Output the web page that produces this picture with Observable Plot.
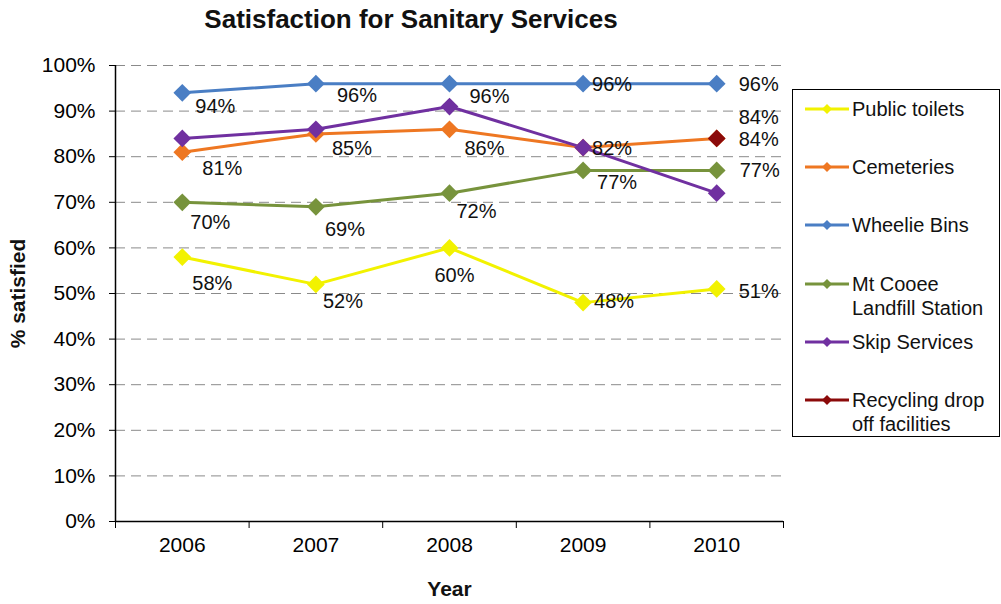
<!DOCTYPE html>
<html><head><meta charset="utf-8">
<script src="https://cdn.jsdelivr.net/npm/d3@7"></script>
<script src="https://cdn.jsdelivr.net/npm/@observablehq/plot@0.6"></script>
<style>
body{margin:0;background:#fff;font-family:"Liberation Sans",Arial,sans-serif;}
#wrap{position:relative;width:1001px;height:604px;overflow:hidden;background:#fff}
#chart{position:absolute;left:0;top:0}
#title{position:absolute;left:0;width:822px;top:4px;text-align:center;font-weight:bold;font-size:26px;color:#111}
#legend{position:absolute;left:792px;top:89px;width:208px;height:348px;border:1.5px solid #000;box-sizing:border-box;}
.item{position:absolute;left:0;width:206px;height:48px}
.item svg{position:absolute;left:10px;top:0}
.item div{position:absolute;left:59px;top:0;font-size:20px;line-height:24px;color:#111;white-space:nowrap}
</style></head><body>
<div id="wrap"><div id="chart"></div><div id="title">Satisfaction for Sanitary Services</div><div id="legend"></div></div>
<script>
const years = [2006, 2007, 2008, 2009, 2010];
const seriesNames = ["Public toilets", "Cemeteries", "Wheelie Bins", "Mt Cooee Landfill Station", "Skip Services", "Recycling drop off facilities"];
const legendLines = [["Public toilets"], ["Cemeteries"], ["Wheelie Bins"], ["Mt Cooee", "Landfill Station"], ["Skip Services"], ["Recycling drop", "off facilities"]];
const publicToilets = [58, 52, 60, 48, 51];
const cemeteries = [81, 85, 86, 82, 84];
const wheelieBins = [94, 96, 96, 96, 96];
const mtCooee = [70, 69, 72, 77, 77];
const skipServices = [84, 86, 91, 82, 72];
const recycling = [null, null, null, null, 84];
const colors = ["#F2F200", "#EE7722", "#4A7EC4", "#77933C", "#7030A0", "#8B0A0A"];
const yTicks = [0, 10, 20, 30, 40, 50, 60, 70, 80, 90, 100];
const labelled = [true, true, true, true, false, true];
// label offsets (layout only): [dx, dy] per year
const labelOffsets = [
  [[30,27],[27,17],[5,28],[31,-1],[42,3]],
  [[40,16],[36,15],[35,19],[29,1],[42,-21]],
  [[33,14],[41,12],[40,13],[29,1],[42,1]],
  [[28,20],[29,23],[27,18],[34,12],[43,0]],
  null,
  [null,null,null,null,[42,1]]
];

const values = [publicToilets, cemeteries, wheelieBins, mtCooee, skipServices, recycling];
const data = [];
values.forEach((arr, s) => arr.forEach((v, i) => data.push({series: seriesNames[s], si: s, year: years[i], yi: i, value: v})));
const present = data.filter(d => d.value != null);
const boundaries = [...years.map(y => y - 0.5), d3.max(years) + 0.5];

const labelMarks = present.filter(d => labelled[d.si] && labelOffsets[d.si] && labelOffsets[d.si][d.yi])
  .map(d => Plot.text([d], {x: "year", y: "value", text: d => d.value + "%", dx: labelOffsets[d.si][d.yi][0], dy: labelOffsets[d.si][d.yi][1], fontSize: 20, fill: "#111"}));

const chart = Plot.plot({
  width: 1001, height: 604,
  marginLeft: 115, marginRight: 218, marginTop: 65, marginBottom: 83,
  style: {fontFamily: "Liberation Sans, Arial, sans-serif", background: "#fff"},
  x: {type: "linear", domain: [d3.min(years) - 0.5, d3.max(years) + 0.5]},
  y: {domain: [0, 100]},
  color: {domain: seriesNames, range: colors},
  marks: [
    Plot.ruleY(yTicks.filter(d => d > 0), {stroke: "#8a8a8a", strokeWidth: 1, strokeDasharray: "10,6"}),
    Plot.axisY({ticks: yTicks, tickFormat: d => d + "%", tickSize: 6, tickPadding: 14, fontSize: 21, label: null, stroke: "#000"}),
    Plot.axisX({ticks: years, tickFormat: d => String(d), tickSize: 0, tickPadding: 16, fontSize: 21, label: null}),
    Plot.axisX({ticks: boundaries, tickFormat: () => "", tickSize: 7, label: null, stroke: "#000"}),
    Plot.ruleX([d3.min(years) - 0.5], {stroke: "#000", strokeWidth: 1.5}),
    Plot.ruleY([0], {stroke: "#000", strokeWidth: 1.5}),
    Plot.line(data, {x: "year", y: "value", z: "series", stroke: "series", strokeWidth: 3, defined: d => d.value != null}),
    Plot.dot(present, {x: "year", y: "value", fill: "series", symbol: "diamond2", r: 8}),
    ...labelMarks,
    Plot.text(["% satisfied"], {frameAnchor: "left", dx: -97, rotate: -90, textAnchor: "middle", lineAnchor: "middle", fontSize: 21, fontWeight: "bold", fill: "#111"}),
    Plot.text(["Year"], {frameAnchor: "bottom", dy: 68, lineAnchor: "middle", textAnchor: "middle", fontSize: 21, fontWeight: "bold", fill: "#111"})
  ]
});
document.getElementById("chart").appendChild(chart);

const legend = d3.select("#legend");
seriesNames.forEach((name, i) => {
  const item = legend.append("div").attr("class", "item").style("top", (7 + i * 58.2) + "px");
  const svg = item.append("svg").attr("width", 48).attr("height", 24);
  svg.append("line").attr("x1", 2).attr("x2", 46).attr("y1", 12).attr("y2", 12).attr("stroke", colors[i]).attr("stroke-width", 3);
  svg.append("path").attr("d", "M24,7L29,12L24,17L19,12Z").attr("fill", colors[i]);
  item.append("div").html(legendLines[i].join("<br>"));
});
</script>
</body></html>
